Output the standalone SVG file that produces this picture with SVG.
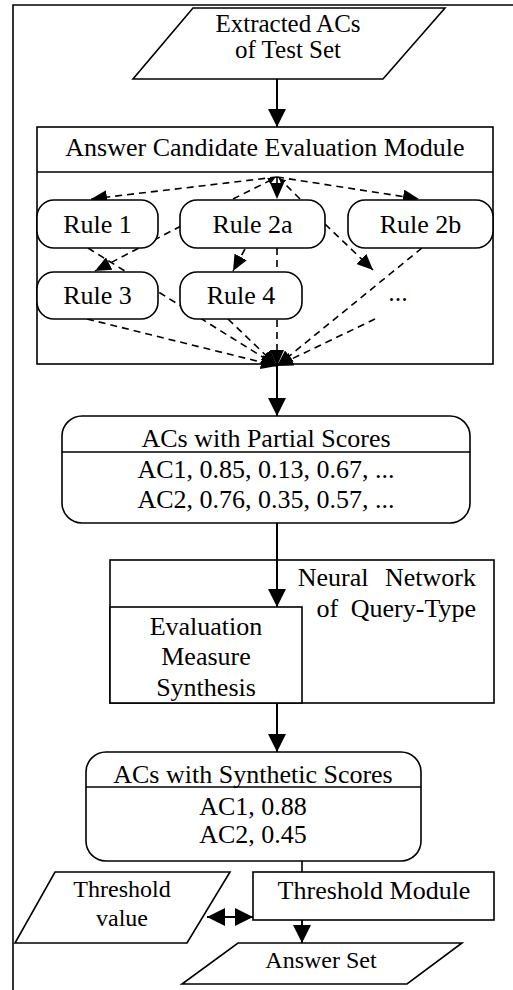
<svg xmlns="http://www.w3.org/2000/svg" width="513" height="990" viewBox="0 0 513 990">
<style>
  text { font-family: "Liberation Serif", "Times New Roman", "DejaVu Serif", serif; font-size: 26px; fill: #000; text-anchor: middle; }
  .box { fill: #fff; stroke: #000; stroke-width: 1.6; }
  .ln { fill: none; stroke: #000; stroke-width: 1.6; }
  .arr { fill: none; stroke: #000; stroke-width: 2; }
  .dash { fill: none; stroke: #000; stroke-width: 1.6; stroke-dasharray: 7 5; }
  .s25 { font-size: 25px; }
  .s24 { font-size: 24px; }
  .end { text-anchor: end; }
</style>
<defs>
  <marker id="ah" markerUnits="userSpaceOnUse" markerWidth="18" markerHeight="18" viewBox="0 0 16 16" refX="16" refY="8" orient="auto">
    <path d="M0,0 L16,8 L0,16 Z" fill="#000"/>
  </marker>
  <marker id="ahs" markerUnits="userSpaceOnUse" markerWidth="18" markerHeight="18" viewBox="0 0 16 16" refX="0" refY="8" orient="auto">
    <path d="M16,0 L0,8 L16,16 Z" fill="#000"/>
  </marker>
  <marker id="dh" markerUnits="userSpaceOnUse" markerWidth="16" markerHeight="14" viewBox="0 0 16 14" refX="16" refY="7" orient="auto">
    <path d="M0,0 L16,7 L0,14 Z" fill="#000"/>
  </marker>
  <marker id="sh" markerUnits="userSpaceOnUse" markerWidth="7" markerHeight="7" viewBox="0 0 7 7" refX="7" refY="3.5" orient="auto">
    <path d="M0,0 L7,3.5 L0,7 Z" fill="#000"/>
  </marker>
</defs>

<path class="ln" d="M13,990 V5 H513"/>

<g id="extracted">
  <polygon class="box" points="193,8 445,8 383,79 133,79"/>
  <text class="s25" x="288" y="32">Extracted ACs</text>
  <text class="s25" x="288" y="58">of Test Set</text>
</g>

<g id="module">
  <rect class="box" x="37" y="127" width="456" height="237"/>
  <line class="ln" x1="37" y1="172" x2="493" y2="172"/>
  <text x="265" y="156">Answer Candidate Evaluation Module</text>
</g>

<g id="partial">
  <rect class="box" x="62" y="416" width="408" height="107" rx="20"/>
  <line class="ln" x1="62" y1="452" x2="470" y2="452"/>
  <text x="266" y="447">ACs with Partial Scores</text>
  <text x="266" y="478">AC1, 0.85, 0.13, 0.67, ...</text>
  <text x="266" y="508">AC2, 0.76, 0.35, 0.57, ...</text>
</g>

<g id="neural">
  <rect class="box" x="110" y="560" width="384" height="143"/>
  <text class="end" x="476" y="586" word-spacing="10">Neural Network</text>
  <text class="end" x="476" y="617" word-spacing="6">of Query-Type</text>
</g>

<g id="synthesis">
  <rect class="box" x="110" y="607" width="192" height="96"/>
  <text x="206" y="635">Evaluation</text>
  <text x="206" y="665">Measure</text>
  <text x="206" y="696">Synthesis</text>
</g>

<g id="synthetic">
  <rect class="box" x="86" y="752" width="335" height="109" rx="20"/>
  <line class="ln" x1="86" y1="787" x2="421" y2="787"/>
  <text x="253" y="783">ACs with Synthetic Scores</text>
  <text x="253" y="815">AC1, 0.88</text>
  <text x="253" y="843">AC2, 0.45</text>
</g>

<g id="threshold-module">
  <rect class="box" x="253" y="872" width="241" height="48"/>
  <text x="374" y="899">Threshold Module</text>
</g>

<g id="threshold-value">
  <polygon class="box" points="55,872 230,872 187,943 15,943"/>
  <text class="s24" x="122" y="897">Threshold</text>
  <text class="s24" x="122" y="926">value</text>
</g>

<g id="answer-set">
  <polygon class="box" points="238,943 462,943 407,984 182,984"/>
  <text class="s24" x="321" y="968">Answer Set</text>
</g>

<g id="connectors">
  <line class="arr" x1="277" y1="79" x2="277" y2="127" marker-end="url(#ah)"/>
  <line class="arr" x1="277" y1="366" x2="277" y2="416" marker-end="url(#ah)"/>
  <line class="arr" x1="277" y1="523" x2="277" y2="607" marker-end="url(#ah)"/>
  <line class="arr" x1="277" y1="703" x2="277" y2="752" marker-end="url(#ah)"/>
  <line class="ln" x1="302" y1="861" x2="302" y2="872"/>
  <line class="arr" x1="302" y1="920" x2="302" y2="943" marker-end="url(#ah)"/>
  <line class="arr" x1="207" y1="917" x2="253" y2="917" marker-start="url(#ahs)" marker-end="url(#ah)"/>

  <line class="dash" x1="277" y1="177" x2="91" y2="199" marker-end="url(#dh)"/>
  <line class="dash" x1="277" y1="177" x2="419" y2="199" marker-end="url(#dh)"/>
  <line class="dash" x1="277" y1="177" x2="277" y2="199" marker-end="url(#dh)"/>
  <line class="dash" x1="233" y1="199" x2="275" y2="178" marker-end="url(#sh)"/>
  <line class="dash" x1="300" y1="199" x2="279" y2="178" marker-end="url(#sh)"/>
  <line class="dash" x1="181" y1="226" x2="95" y2="271" marker-end="url(#dh)"/>
  <line class="dash" x1="245" y1="249" x2="233" y2="271" marker-end="url(#dh)"/>
  <line class="dash" x1="325" y1="224" x2="373" y2="270" marker-end="url(#dh)"/>

  <line class="dash" x1="88" y1="248" x2="277" y2="366" marker-end="url(#dh)"/>
  <line class="dash" x1="87" y1="319" x2="277" y2="366" marker-end="url(#dh)"/>
  <line class="dash" x1="228" y1="319" x2="277" y2="366" marker-end="url(#dh)"/>
  <line class="dash" x1="277" y1="248" x2="277" y2="366" marker-end="url(#dh)"/>
  <line class="dash" x1="422" y1="248" x2="277" y2="366" marker-end="url(#dh)"/>
  <line class="dash" x1="375" y1="319" x2="277" y2="366" marker-end="url(#dh)"/>
</g>

<g id="rule1">
  <rect class="box" x="37" y="200" width="121" height="48" rx="17"/>
  <text x="97.5" y="233">Rule 1</text>
</g>
<g id="rule2a">
  <rect class="box" x="180" y="200" width="145" height="48" rx="17"/>
  <text x="252.5" y="233">Rule 2a</text>
</g>
<g id="rule2b">
  <rect class="box" x="348" y="200" width="145" height="48" rx="17"/>
  <text x="420.5" y="233">Rule 2b</text>
</g>
<g id="rule3">
  <rect class="box" x="37" y="272" width="121" height="47" rx="17"/>
  <text x="97.5" y="304">Rule 3</text>
</g>
<g id="rule4">
  <rect class="box" x="180" y="272" width="122" height="47" rx="17"/>
  <text x="241" y="304">Rule 4</text>
</g>
<g id="more">
  <text x="398" y="301">...</text>
</g>
</svg>
